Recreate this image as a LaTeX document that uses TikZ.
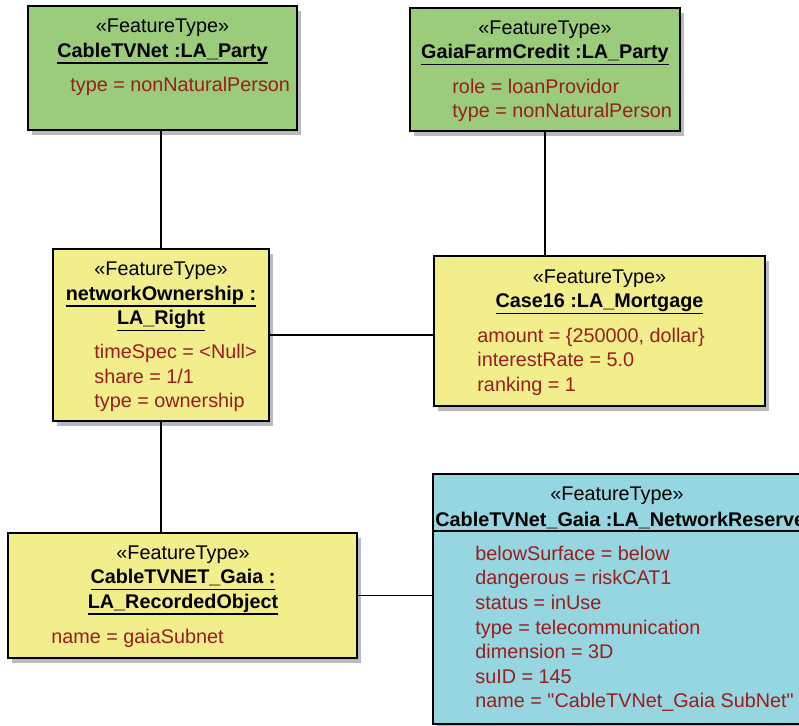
\documentclass[tikz,border=0pt]{standalone}
\usepackage{fontspec}
\setmainfont{Liberation Sans}
\newfontfamily\plainfont{Liberation Sans}
\usetikzlibrary{positioning,fit,shadows}

\definecolor{ftgreen}{RGB}{155,204,123}
\definecolor{ftyellow}{RGB}{242,238,140}
\definecolor{ftcyan}{RGB}{150,214,225}
\definecolor{attrred}{RGB}{152,30,30}

% bold, underlined instance name
\newcommand\iname[1]{\setbox0=\hbox{\bfseries #1}\rlap{\copy0}\rule[-3.3pt]{\wd0}{0.7pt}}
% straight double quote
\newcommand\sq{{\plainfont\symbol{34}}}

\begin{document}
\begin{tikzpicture}[x=0.5pt,y=-0.5pt,
    box/.style={draw,line width=0.75pt,inner sep=0,
      drop shadow={shadow xshift=2pt,shadow yshift=-2.5pt,fill=black!27,opacity=1}},
    hdr/.style={align=center,anchor=north,inner sep=0,font=\fontsize{9.9}{12.3}\selectfont},
    attr/.style={align=left,anchor=north west,inner sep=0,text=attrred,font=\fontsize{9.9}{12.3}\selectfont},
    lnk/.style={line width=0.75pt}]
  \useasboundingbox (0,0) rectangle (799,725);
  \clip (0,0) rectangle (799,725);
  % boxes
  \node[box,fill=ftgreen,fit={(28,6) (297,130)}](party1){};
  \node[box,fill=ftgreen,fit={(410,8) (680,131)}](party2){};
  \node[box,fill=ftyellow,fit={(53,249) (269,421)}](right){};
  \node[box,fill=ftyellow,fit={(434,256) (765,406)}](mortgage){};
  \node[box,fill=ftcyan,fit={(433,474) (802,724)}](reserve){};
  \node[box,fill=ftyellow,fit={(8,533) (357,658)}](recobj){};
  % connectors
  \draw[lnk](right.north |- party1.south)--(right.north);
  \draw[lnk](party2.south)--(party2.south |- mortgage.north);
  \draw[lnk](right.east)--(right.east -| mortgage.west);
  \draw[lnk](right.south)--(right.south |- recobj.north);
  \draw[lnk](recobj.east)--(recobj.east -| reserve.west);
  % texts
  \node[hdr](h1) at (162.5,18.5){«FeatureType»\\\iname{CableTVNet :LA\_Party}};
  \node[attr](a1) at (70,76.5){type = nonNaturalPerson};
  \node[hdr](h2) at (545,20){«FeatureType»\\\iname{GaiaFarmCredit :LA\_Party}};
  \node[attr](a2) at (452,78.5){role = loanProvidor\\type = nonNaturalPerson};
  \node[hdr](h3) at (161,261.5){«FeatureType»\\\iname{networkOwnership :}\\\iname{LA\_Right}};
  \node[attr](a3) at (94,344){timeSpec = <Null>\\share = 1/1\\type = ownership};
  \node[hdr](h4) at (599.5,269){«FeatureType»\\\iname{Case16 :LA\_Mortgage}};
  \node[attr](a4) at (477,327.5){amount = \{250000, dollar\}\\interestRate = 5.0\\ranking = 1};
  \node[hdr](h5) at (617,486.5){«FeatureType»};
  \node[hdr,anchor=base west](n5) at (435,526){\textbf{CableTVNet\_Gaia :LA\_NetworkReserve}};
  \draw[lnk](reserve.west |- 0,531)--(reserve.east |- 0,531);
  \node[attr](a5) at (475,545.5){belowSurface = below\\dangerous = riskCAT1\\status = inUse\\type = telecommunication\\dimension = 3D\\suID = 145\\name = \sq CableTVNet\_Gaia SubNet\sq};
  \node[hdr](h6) at (183,545){«FeatureType»\\\iname{CableTVNET\_Gaia :}\\\iname{LA\_RecordedObject}};
  \node[attr](a6) at (51,629){name = gaiaSubnet};
\end{tikzpicture}
\end{document}
